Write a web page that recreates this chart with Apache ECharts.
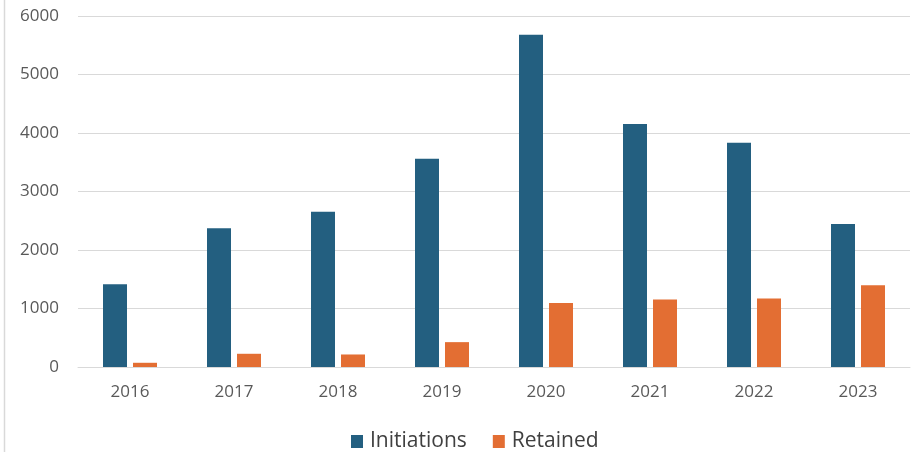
<!DOCTYPE html>
<html>
<head>
<meta charset="utf-8">
<script src="https://cdn.jsdelivr.net/npm/echarts@6/dist/echarts.min.js"></script>
<style>
  html, body { margin: 0; padding: 0; background: #fff; }
  #chart { width: 915px; height: 452px; }
</style>
</head>
<body>
<div id="chart"></div>
<script>
// Yearly counts
const years = ['2016', '2017', '2018', '2019', '2020', '2021', '2022', '2023'];
const initiations = [1415, 2370, 2655, 3558, 5680, 4154, 3835, 2444];
const retained = [72, 226, 214, 425, 1094, 1153, 1170, 1398];
const yTicks = { min: 0, max: 6000, interval: 1000 };

const textColor = '#595959';
const fontFamily = '"Open Sans", "Liberation Sans", sans-serif';

const chart = echarts.init(document.getElementById('chart'), null, { renderer: 'canvas' });
chart.setOption({
  animation: false,
  backgroundColor: '#ffffff',
  textStyle: { fontFamily: fontFamily },
  grid: { left: 78, right: 5, top: 16, bottom: 85, containLabel: false },
  legend: {
    data: ['Initiations', 'Retained'],
    top: 426,
    left: 346,
    itemWidth: 12,
    itemHeight: 13,
    itemGap: 26,
    icon: 'rect',
    textStyle: { color: '#404040', fontSize: 21, fontFamily: fontFamily, padding: [0, 0, 0, 2] }
  },
  xAxis: {
    type: 'category',
    data: years,
    axisLine: { show: true, lineStyle: { color: '#d9d9d9', width: 1 } },
    axisTick: { show: false },
    axisLabel: { color: textColor, fontSize: 17, margin: 17 }
  },
  yAxis: {
    type: 'value',
    min: yTicks.min,
    max: yTicks.max,
    interval: yTicks.interval,
    axisLine: { show: false },
    axisTick: { show: false },
    splitLine: { lineStyle: { color: '#d9d9d9', width: 1 } },
    axisLabel: { color: textColor, fontSize: 17, margin: 19, formatter: (v) => String(v) }
  },
  series: [
    {
      name: 'Initiations',
      type: 'bar',
      data: initiations,
      barWidth: 24,
      barGap: '25%',
      itemStyle: { color: '#235F80' }
    },
    {
      name: 'Retained',
      type: 'bar',
      data: retained,
      barWidth: 24,
      barGap: '25%',
      itemStyle: { color: '#E36E33' }
    }
  ],
  graphic: [
    {
      type: 'line',
      shape: { x1: 4.5, y1: 0, x2: 4.5, y2: 452 },
      style: { stroke: '#d9d9d9', lineWidth: 1.5 },
      silent: true
    }
  ]
});
</script>
</body>
</html>
